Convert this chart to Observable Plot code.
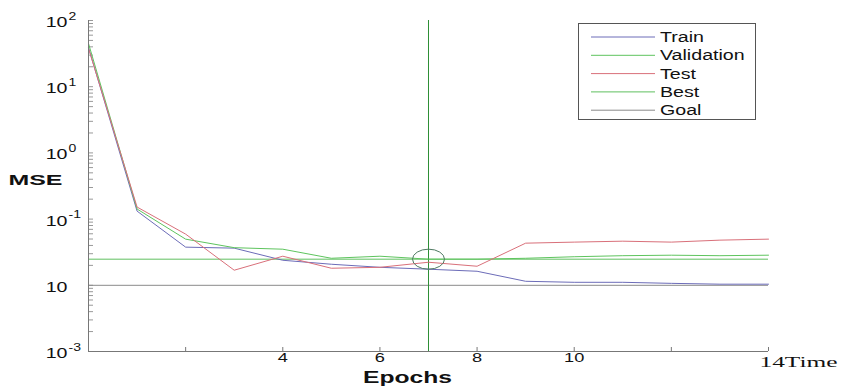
<!DOCTYPE html>
<html><head><meta charset="utf-8">
<script src="https://cdn.jsdelivr.net/npm/d3@7"></script>
<script src="https://cdn.jsdelivr.net/npm/@observablehq/plot@0.6"></script>
<style>body{margin:0;background:#fff;} #chart{position:relative;width:841px;height:391px;}</style>
</head><body><div id="chart"></div>
<script>
// ---- data ----
const epochs     = [0, 1, 2, 3, 4, 5, 6, 7, 8, 9, 10, 11, 12, 13, 14];
const train      = [39, 0.132, 0.0377, 0.0364, 0.0239, 0.0208, 0.0187, 0.0175, 0.0163, 0.0115, 0.0111, 0.0111, 0.0107, 0.0104, 0.0104];
const validation = [45, 0.142, 0.0498, 0.0370, 0.0351, 0.0256, 0.0275, 0.0248, 0.0248, 0.0256, 0.0270, 0.0280, 0.0285, 0.0280, 0.0285];
const test       = [38, 0.152, 0.0593, 0.0169, 0.0275, 0.0181, 0.0187, 0.0223, 0.0194, 0.0433, 0.0449, 0.0464, 0.0449, 0.0481, 0.0498];
const bestEpoch = 7;
const bestValue = 0.0248;
const goalValue = 0.01;

const yTickValues = [1e-3, 1e-2, 1e-1, 1, 10, 100];
const yTickBase   = ["10", "10", "10", "10", "10", "10"];
const yTickExp    = ["-3", "", "-1", "0", "1", "2"];
const xTickValues = [2, 4, 6, 8, 10, 12, 14];
const xTickLabels = ["", "4", "6", "8", "10", "", "14Time"];

const seriesNames  = ["Train", "Validation", "Test", "Best", "Goal"];
const seriesColors = ["#6c6cb8", "#5ec45e", "#d9707a", "#5fbf5f", "#8a8a8a"];
const bestLineColor = "#2e8f36";
const circleColor = "#4f7a62";

// ---- table ----
const rows = [];
[["Train", train], ["Validation", validation], ["Test", test]].forEach(([s, v]) =>
  epochs.forEach((e, i) => rows.push({series: s, epoch: e, mse: v[i]})));

const minorTicks = d3.scaleLog().domain([1e-3, 1e2]).ticks();
const lastIdx = xTickLabels.length - 1;

const plot = Plot.plot({
  width: 841, height: 391,
  marginLeft: 88, marginRight: 73, marginTop: 20, marginBottom: 40,
  style: {fontFamily: "'Liberation Sans', Arial, sans-serif", background: "#fff", color: "#111"},
  x: {domain: [0, 14], axis: null},
  y: {type: "log", domain: [1e-3, 1e2], axis: null},
  color: {domain: seriesNames, range: seriesColors},
  marks: [
    // inward tick marks
    Plot.ruleY(minorTicks, {y: d => d, x1: 0, x2: 0, insetRight: -5, stroke: "#999"}),
    Plot.ruleX(xTickValues, {x: d => d, y1: 1e-3, y2: 1e-3, insetTop: -4, stroke: "#777"}),
    Plot.ruleY([goalValue], {stroke: seriesColors[4], strokeWidth: 1}),
    Plot.ruleY([bestValue], {stroke: seriesColors[3], strokeWidth: 1}),
    Plot.ruleX([bestEpoch], {stroke: bestLineColor, strokeWidth: 1}),
    Plot.line(rows, {x: "epoch", y: "mse", stroke: "series", strokeWidth: 1}),
    Plot.dot([{e: bestEpoch, v: bestValue}], {x: "e", y: "v", r: 10, stroke: circleColor, fill: "none", strokeWidth: 1}),
    Plot.ruleX([0], {stroke: "#777"}),
    Plot.ruleY([1e-3], {stroke: "#777"}),
    Plot.text(yTickValues, {x: 0, y: d => d, text: (d, i) => yTickBase[i], textAnchor: "end", dx: -21, dy: 2, fontSize: 14, fill: "#111"}),
    Plot.text(yTickValues, {x: 0, y: d => d, text: (d, i) => yTickExp[i], textAnchor: "start", dx: -20, dy: -4, fontSize: 10, fill: "#111"}),
    Plot.text(xTickValues.slice(0, lastIdx), {x: d => d, frameAnchor: "bottom", text: (d, i) => xTickLabels[i], dy: 10, fontSize: 13, fill: "#111"}),
    Plot.text([xTickValues[lastIdx]], {x: d => d, frameAnchor: "bottom", text: () => xTickLabels[lastIdx], textAnchor: "start", dx: -9, dy: 15, fontSize: 14, fontFamily: "'Liberation Serif', serif", fill: "#111"}),
    Plot.text(["Epochs"], {frameAnchor: "bottom", dx: -21, dy: 31, fontSize: 16, fontWeight: "bold", fill: "#111"}),
    Plot.text(["MSE"], {frameAnchor: "left", textAnchor: "start", dx: -80, dy: -6, fontSize: 15, fontWeight: "bold", fill: "#111"})
  ]
});
document.getElementById("chart").appendChild(plot);

const svg = d3.select(plot);

// legend
const leg = svg.append("g").attr("font-family", "'Liberation Sans', Arial, sans-serif")
  .attr("font-size", 14).attr("text-anchor", "start");
leg.append("rect").attr("x", 578.5).attr("y", 23.5).attr("width", 177).attr("height", 96)
  .attr("fill", "#fff").attr("stroke", "#555").attr("stroke-width", 1);
seriesNames.forEach((name, i) => {
  const y = 37 + i * 18.3;
  leg.append("line").attr("x1", 591).attr("x2", 655).attr("y1", y).attr("y2", y)
    .attr("stroke", seriesColors[i]).attr("stroke-width", 1);
  leg.append("text").attr("x", 660).attr("y", y).attr("dy", "0.35em")
    .attr("text-anchor", "start").attr("fill", "#111").text(name);
});

// ellipse for best marker
svg.selectAll('g[aria-label="dot"] circle').each(function () {
  const c = d3.select(this);
  const cx = +c.attr("cx"), cy = +c.attr("cy");
  let tx = cx, ty = cy;
  const tr = c.attr("transform");
  if (tr) { const m = /translate\(([-\d.]+),([-\d.]+)\)/.exec(tr); if (m) { tx = +m[1] + (cx || 0); ty = +m[2] + (cy || 0); } }
  d3.select(this.parentNode).append("ellipse").attr("cx", tx).attr("cy", ty).attr("rx", 16).attr("ry", 10)
    .attr("fill", "none").attr("stroke", circleColor).attr("stroke-width", 1);
  c.remove();
});

// horizontal stretch of text to mimic the reference
const fixed = {"MSE": 54, "Epochs": 89, "14Time": 78};
svg.selectAll("text").each(function () {
  const t = this.textContent;
  const len = this.getComputedTextLength();
  if (!len) return;
  const target = fixed[t] !== undefined ? fixed[t] : len * 1.4;
  this.setAttribute("textLength", target);
  this.setAttribute("lengthAdjust", "spacingAndGlyphs");
});
</script>
</body></html>
